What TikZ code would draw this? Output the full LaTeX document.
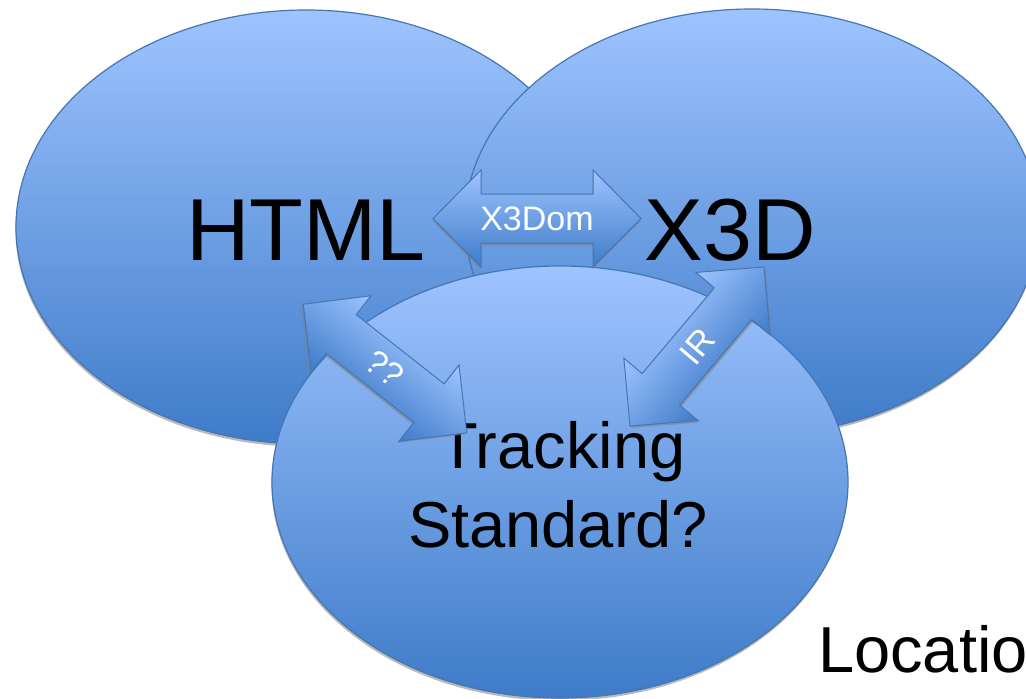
\documentclass[tikz,border=0pt]{standalone}
\usepackage{fontspec}
\setmainfont{Liberation Sans}
\usetikzlibrary{shapes.geometric}

\definecolor{bubbletop}{RGB}{158,196,255}
\definecolor{bubblebottom}{RGB}{62,123,200}
\definecolor{bubbleline}{RGB}{70,118,178}

% outline of a double-headed block arrow, centred on the origin
\def\arrowoutline{(-104,0) -- (-56,-48.5) -- (-56,-24.5) -- (56,-24.5) -- (56,-48.5) -- (104,0) -- (56,48.5) -- (56,24.5) -- (-56,24.5) -- (-56,48.5) -- cycle}

\tikzset{
  softshadow/.style={fill=black!50, opacity=0.55},
  bubble/.style={ellipse, inner sep=0pt, draw=bubbleline, line width=1.2pt,
    top color=bubbletop, bottom color=bubblebottom},
  bigword/.style={font=\fontsize{88}{100}\selectfont, inner sep=0pt, anchor=base, text=black},
  midword/.style={font=\fontsize{65}{78}\selectfont, inner sep=0pt, anchor=base, text=black},
  arrowbody/.style={draw=bubbleline, line width=1pt, top color=bubbletop, bottom color=bubblebottom},
  arrowlabel/.style={font=\fontsize{34}{40}\selectfont, inner sep=0pt, text=white},
  pics/dblarrow/.style={code={
    \fill[softshadow, shift={(-0.5,2.5)}] \arrowoutline;
    \path[arrowbody] \arrowoutline;
    \node[arrowlabel] (-text) at (0,0) {#1};
  }}
}

\begin{document}
\begin{tikzpicture}[x=1pt,y=-1pt]
\useasboundingbox (0,0) rectangle (1026,699);
\fill[white] (0,0) rectangle (1026,699);

% the three overlapping bubbles, each with a faint shadow beneath
\fill[softshadow] (305.4,229.8) ellipse [x radius=290, y radius=217];
\node[bubble, minimum width=580pt, minimum height=434pt] (html) at (306,227) {};
\fill[softshadow] (751.4,224.8) ellipse [x radius=287, y radius=213];
\node[bubble, minimum width=574pt, minimum height=426pt] (x3d) at (752,222) {};
\fill[softshadow] (559.4,484.8) ellipse [x radius=288, y radius=216];
\node[bubble, minimum width=576pt, minimum height=432pt] (tracking) at (560,482) {};

% bubble titles
\node[bigword] (htmltitle) at (306,260) {HTML};
\node[bigword] (x3dtitle) at (730,260) {X3D};
\node[midword] (trackline1) at (562,468) {Tracking};
\node[midword] (trackline2) at (558,547) {Standard?};
\node[font=\fontsize{65}{78}\selectfont, inner sep=0pt, anchor=base west] (location) at (818,672) {Location};

% block arrows linking the bubbles
\pic (x3dom) at (537,218.5) {dblarrow=X3Dom};
\begin{scope}[transform canvas={shift={(385,368.5)}, rotate=-38.2}]
  \pic (unknown) at (0,0) {dblarrow=??};
\end{scope}
\begin{scope}[transform canvas={shift={(697,346.5)}, rotate=49.9}]
  \pic (ir) at (0,0) {dblarrow=IR};
\end{scope}
\end{tikzpicture}
\end{document}
